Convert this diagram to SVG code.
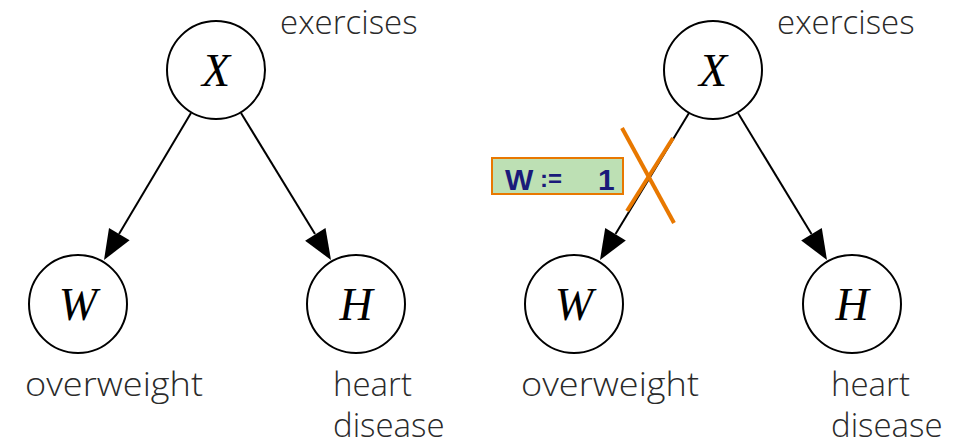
<svg xmlns="http://www.w3.org/2000/svg" width="955" height="448" viewBox="0 0 955 448">
<style>
.node{fill:#fff;stroke:#000;stroke-width:2}
.var{font-family:"Liberation Serif",serif;font-style:italic;font-size:46px;text-anchor:middle}
.lbl{font-family:"Open Sans","Liberation Sans",sans-serif;font-weight:300;font-size:33px;fill:#2a2a2a}
.edge{stroke:#000;stroke-width:2;fill:none}
.head{fill:#000}
.cross{stroke:#e87800;stroke-width:4;stroke-linecap:butt}
.hw{font-family:"Liberation Sans",sans-serif;fill:#1a1a7a}
</style>
<rect width="955" height="448" fill="#fff"/>
<g id="connectors">
<path class="edge" d="M191,113 L119,234"/>
<polygon class="head" points="104,260 129.6,240.3 109,228.1"/>
<path class="edge" d="M241,113 L315,234"/>
<polygon class="head" points="331,260 325.5,228.1 305.1,240.7"/>
<path class="edge" d="M689,113 L615.5,234"/>
<polygon class="head" points="600,260 625.8,240.5 605.2,228.1"/>
<path class="edge" d="M738,113 L811.5,234"/>
<polygon class="head" points="827,260 821.8,228.1 801.2,240.5"/>
</g>
<g id="X1"><circle class="node" cx="216" cy="70" r="49"/><text class="var" x="216" y="86">X</text><text class="lbl" x="280" y="34">exercises</text></g>
<g id="W1"><circle class="node" cx="78" cy="304" r="49"/><text class="var" x="78" y="320">W</text><text class="lbl" x="25" y="396" textLength="178" lengthAdjust="spacingAndGlyphs">overweight</text></g>
<g id="H1"><circle class="node" cx="356" cy="304" r="49"/><text class="var" x="356" y="320">H</text><text class="lbl" x="333" y="396">heart</text><text class="lbl" x="333" y="437">disease</text></g>
<g id="X2"><circle class="node" cx="713" cy="70" r="49"/><text class="var" x="713" y="86">X</text><text class="lbl" x="777" y="34">exercises</text></g>
<g id="W2"><circle class="node" cx="574" cy="304" r="49"/><text class="var" x="574" y="320">W</text><text class="lbl" x="521" y="396" textLength="178" lengthAdjust="spacingAndGlyphs">overweight</text></g>
<g id="H2"><circle class="node" cx="852" cy="304" r="49"/><text class="var" x="852" y="320">H</text><text class="lbl" x="831" y="396">heart</text><text class="lbl" x="831" y="437">disease</text></g>
<g id="intervention">
<rect x="492" y="158" width="131" height="36" fill="#bde0b4" stroke="#e87800" stroke-width="2"/>
<text class="hw" x="505" y="190" font-size="30" font-weight="bold">W</text>
<text class="hw" x="540" y="187" font-size="24" font-weight="bold">:=</text>
<text class="hw" x="598" y="190" font-size="30" font-weight="bold">1</text>
<line class="cross" x1="622" y1="128" x2="674" y2="223"/>
<line class="cross" x1="673" y1="138" x2="627" y2="211"/>
</g>
</svg>
